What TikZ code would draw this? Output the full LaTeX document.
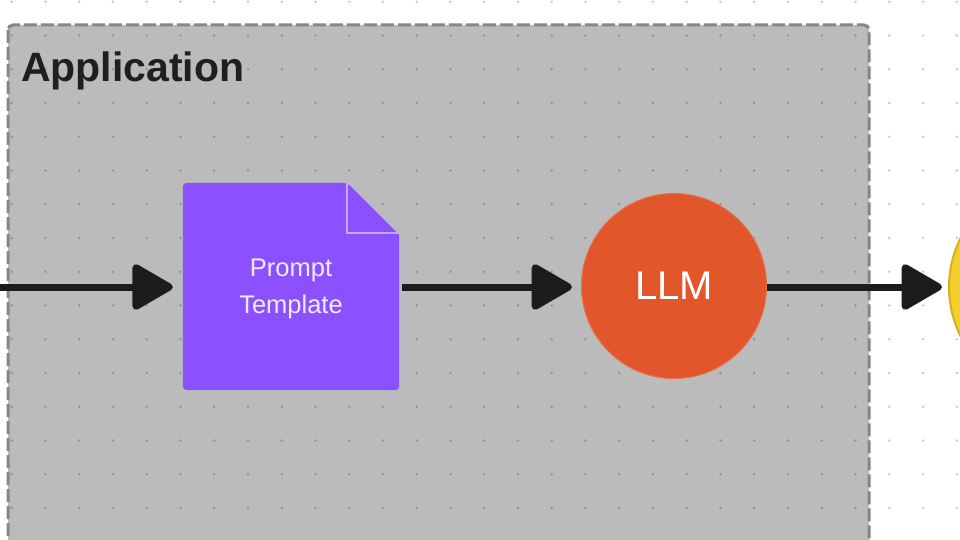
\documentclass[tikz,border=0pt]{standalone}
\usepackage{fontspec}
\setmainfont{Liberation Sans}
\usepackage{tikz}
\usepackage{xcolor}
\usetikzlibrary{
    arrows.meta,
    shapes,
    calc,
    positioning
}
\definecolor{dotgray}{HTML}{CBCBCB}
\definecolor{framegray}{HTML}{878787}
\definecolor{promptpurple}{HTML}{8B50FF}
\definecolor{foldpurple}{HTML}{C9A6FF}
\definecolor{llmorange}{HTML}{E2562B}
\definecolor{outyellow}{HTML}{F4CD2F}
\definecolor{outborder}{HTML}{D8AE1A}
\definecolor{arrowblack}{HTML}{1C1C1C}

\tikzset{
    flow/.style={
        draw=arrowblack,
        line width=7pt,
        -{Triangle[length=44pt, width=49pt, round]}
    }
}

\begin{document}
\begin{tikzpicture}[x=1pt, y=-1pt]
                        \clip (0, 0) rectangle (960, 540);
                        \fill[white] (0, 0) rectangle (960, 540);
                        % dot grid
                        \foreach \i in {0,...,28} {
                            \foreach \j in {0,...,16} {
                                \fill[dotgray] (11.7 + 33.75*\i, 1.7 + 33.75*\j) circle (1.4pt);
                            }
                        }
                        % application frame
                        \draw[
                            fill=black,
                            fill opacity=0.265,
                            draw=framegray,
                            line width=3pt,
                            dash pattern=on 13pt off 4pt,
                            rounded corners=5pt
                        ] (8, 25) rectangle (869, 570);
                        \node[anchor=base west, font=\bfseries\fontsize{41}{48}\selectfont, text=black!88, inner sep=0pt] (applabel) at (21, 82) {Application};
                        % nodes
                        \node[
                            minimum width=216pt,
                            minimum height=207pt,
                            inner sep=0pt
                        ] (prompt) at (291, 286.5) {};
                        \fill[promptpurple, rounded corners=4pt]
                            (prompt.north west) -- ([xshift=-52pt]prompt.north east)
                            [sharp corners] -- ([yshift=-52pt]prompt.north east)
                            [rounded corners=4pt] -- (prompt.south east) -- (prompt.south west) -- cycle;
                        \draw[foldpurple, line width=2.2pt, line join=round]
                            ([xshift=-52pt]prompt.north east) -- ([xshift=-52pt, yshift=-50pt]prompt.north east) -- ([xshift=-1pt, yshift=-50pt]prompt.north east);
                        \node[align=center, text=white!88!promptpurple, font=\fontsize{25.5}{37}\selectfont] (prompttext) at ([yshift=-2pt]prompt.center) {Prompt\\Template};
                        \node[
                            circle,
                            minimum size=185pt,
                            fill=llmorange,
                            draw=llmorange!85!white,
                            line width=1pt,
                            text=white,
                            font=\fontsize{40}{48}\selectfont
                        ] (llm) at (674, 286) {LLM};
                        \node[
                            circle,
                            minimum size=220pt,
                            fill=outyellow,
                            draw=outborder,
                            line width=2pt
                        ] (output) at (1059, 287) {};
                        % connectors
                        \coordinate (input) at (0, 287);
                        \draw[flow, shorten >=10pt] (input) -- (prompt.west |- input);
                        \draw[flow, shorten <=3pt, shorten >=9pt] (prompt.east |- input) -- (llm.west |- input);
                        \draw[flow, shorten >=6pt] (llm.east |- input) -- (output.west |- input);
                    \end{tikzpicture}
\end{document}
